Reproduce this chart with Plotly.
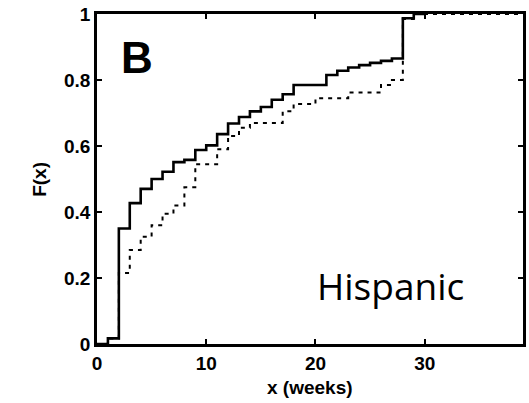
import plotly.graph_objects as go

# Empirical CDF, solid curve
solid_x = [0, 1, 2, 3, 4, 5, 6, 7, 8, 9, 10, 11, 12, 13, 14, 15, 16, 17, 18,
           21, 22, 23, 24, 25, 26, 27, 28, 29, 30]
solid_F = [0, 0.017, 0.35, 0.427, 0.47, 0.50, 0.522, 0.551, 0.558, 0.588, 0.602,
           0.636, 0.668, 0.688, 0.705, 0.718, 0.74, 0.757, 0.785,
           0.815, 0.828, 0.838, 0.845, 0.852, 0.858, 0.865, 0.987, 1.0, 1.0]

# Empirical CDF, dotted curve
dot_x = [0, 1, 2, 3, 4, 5, 6, 7, 8, 9, 11, 12, 13, 14, 17, 18, 20, 23, 26, 27, 28, 29, 39]
dot_F = [0, 0.017, 0.215, 0.285, 0.325, 0.36, 0.395, 0.42, 0.475, 0.545, 0.59, 0.63,
         0.655, 0.67, 0.705, 0.727, 0.745, 0.762, 0.785, 0.80, 0.985, 1.0, 1.0]

y_ticks = [0, 0.2, 0.4, 0.6, 0.8, 1]
y_labels = ["0", "0.2", "0.4", "0.6", "0.8", "1"]
x_ticks = [0, 10, 20, 30]
x_labels = ["0", "10", "20", "30"]

fig = go.Figure()
fig.add_trace(go.Scatter(x=dot_x, y=dot_F, mode="lines", line_shape="hv",
                         line=dict(color="black", width=2, dash="4px,5px"),
                         showlegend=False))
fig.add_trace(go.Scatter(x=solid_x, y=solid_F, mode="lines", line_shape="hv",
                         line=dict(color="black", width=2.6),
                         showlegend=False))

tickfont = dict(family="Liberation Sans", size=19, color="black", weight="bold")
fig.update_xaxes(range=[0, 39], tickvals=x_ticks, ticktext=x_labels,
                 showgrid=False, zeroline=False, showline=True, linecolor="black",
                 linewidth=2.5, mirror="allticks", ticks="inside", ticklen=5,
                 tickwidth=1.5, tickcolor="black", tickfont=tickfont)
fig.update_yaxes(range=[0, 1], tickvals=y_ticks, ticktext=y_labels,
                 showgrid=False, zeroline=False, showline=True, linecolor="black",
                 linewidth=2.5, mirror="allticks", ticks="inside", ticklen=5,
                 tickwidth=1.5, tickcolor="black", tickfont=tickfont)

fig.add_annotation(text="B", xref="paper", yref="paper", x=0.094, y=0.868,
                   showarrow=False, xanchor="center", yanchor="middle",
                   font=dict(family="Liberation Sans", size=44, color="black", weight="bold"))
fig.add_annotation(text="Hispanic", xref="paper", yref="paper", x=0.69, y=0.178,
                   showarrow=False, xanchor="center", yanchor="middle",
                   font=dict(family="Open Sans", size=37, color="black"))
fig.add_annotation(text="x (weeks)", xref="paper", yref="paper", x=0.5, y=-0.133,
                   showarrow=False, xanchor="center", yanchor="middle",
                   font=dict(family="Liberation Sans", size=19, color="black", weight="bold"))
fig.add_annotation(text="F(x)", xref="paper", yref="paper", x=-0.1365, y=0.5,
                   showarrow=False, xanchor="center", yanchor="middle", textangle=-90,
                   font=dict(family="Liberation Sans", size=19, color="black", weight="bold"))

fig.update_layout(width=529, height=403, margin=dict(l=97, r=3, t=14, b=59),
                  plot_bgcolor="white", paper_bgcolor="white")
fig.write_html("out.html")
